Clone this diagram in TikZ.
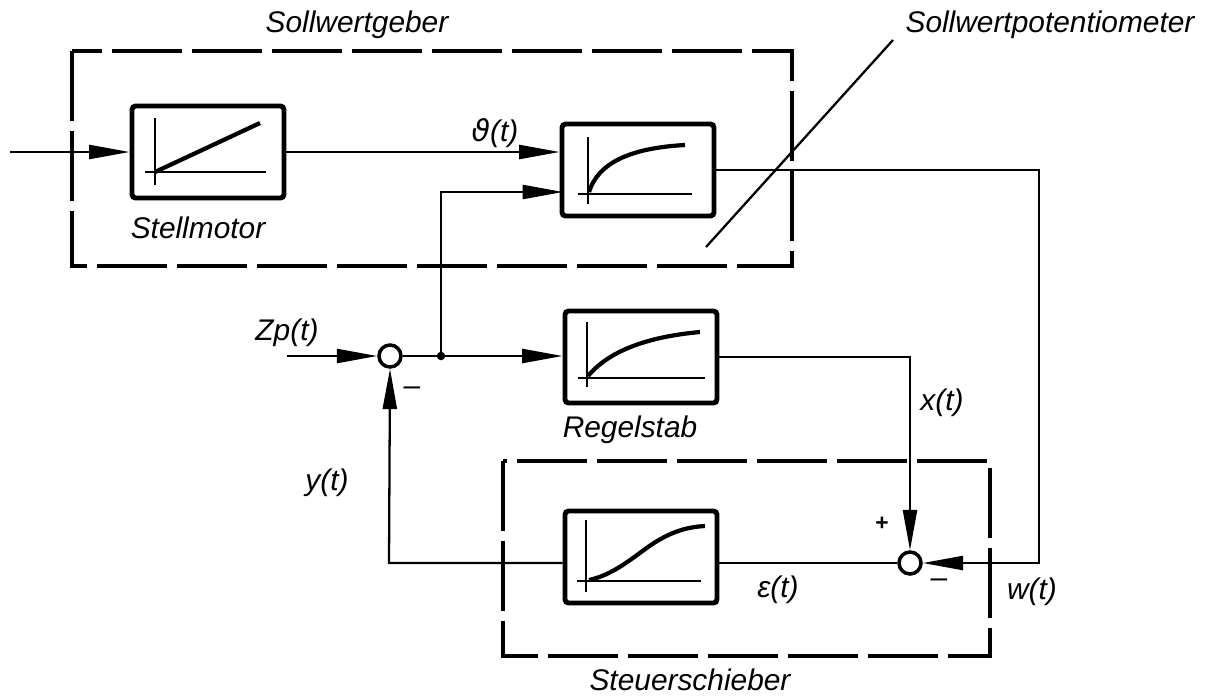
\documentclass[tikz,border=0pt]{standalone}
\usepackage{fontspec}
\setmainfont{Liberation Sans}
\newfontfamily\dejavu{DejaVu Sans}
\usetikzlibrary{arrows.meta}
\tikzset{
 blk/.style={draw, line width=2.8pt, rounded corners=2pt, minimum width=3.04cm, minimum height=1.84cm, inner sep=0},
 sumj/.style={draw, circle, line width=2pt, minimum size=0.44cm, inner sep=0, fill=white},
 conn/.style={line width=1.3pt},
 arr/.style={conn, -{Triangle[length=23pt,width=8pt]}},
 grp/.style={line width=2pt, dash pattern=on 1.4cm off 0.2cm},
 lbl/.style={font=\fontsize{17}{20}\selectfont\itshape, inner sep=1pt},
 crv/.style={line width=2.4pt},
 axis/.style={line width=1.2pt},
}
\begin{document}
\begin{tikzpicture}[x=0.02cm,y=-0.02cm]
\useasboundingbox (0,0) rectangle (1213,697);

% group boxes
\draw[grp] (72,51) rectangle (792,266);
\draw[grp] (503,461) rectangle (990,656);

% blocks
\node[blk] (stell) at (208,152) {};
\node[blk] (pot) at (638,170) {};
\node[blk] (regel) at (641,357) {};
\node[blk] (steuer) at (641,557) {};

% summing junctions and branch
\node[sumj] (j1) at (390,356) {};
\node[sumj] (j2) at (910,563) {};
\fill (441,356) circle (0.085cm);
\coordinate (b1) at (441,356);

% graphs inside blocks
\draw[axis] (155,118) -- (155,185);
\draw[axis] (145,172) -- (266,172);
\draw[crv] (155,172) -- (260,123);

\draw[axis] (588,137) -- (588,204);
\draw[axis] (578,194) -- (692,194);
\draw[crv] (589,192) .. controls (598,163) and (630,148) .. (685,145);

\draw[axis] (587,322) -- (587,387);
\draw[axis] (578,378) -- (705,378);
\draw[crv] (588,376) .. controls (608,352) and (645,337) .. (700,332);

\draw[axis] (586,520) -- (586,592);
\draw[axis] (577,581) -- (701,581);
\draw[crv] (589,580) .. controls (612,575) and (630,560) .. (648,547) .. controls (668,533) and (685,527) .. (705,526);

% connectors
\coordinate (in0) at (10,152);
\draw[arr] (in0) -- (stell.west);
\draw[arr] (stell.east) -- (stell.east -| pot.west);
\coordinate (pin2) at (563,192);
\draw[conn] (j1.east) -- (b1);
\draw[arr] (b1) |- (pin2);
\draw[arr] (b1) -- (b1 -| regel.west);
\coordinate (zp) at (287,356);
\draw[arr] (zp) -- (j1.west);
\coordinate (wc) at (1039,563);
\draw[arr] (pot.east) -| (wc) -- (j2.east);
\draw[arr] (regel.east) -| (j2.north);
\draw[conn] (j2.west) -- (j2.west -| steuer.east);
\coordinate (fb) at (389,563);
\draw[arr] (j2 -| steuer.west) -- (fb) -- (j1.south);

% leader line
\coordinate (ldA) at (706,247);
\coordinate (ldB) at (893,40);
\draw[conn] (ldA) -- (ldB);

% labels
\node[lbl] (tSg) at (357,25) {Sollwertgeber};
\node[lbl] (tSp) at (1050,25) {Sollwertpotentiometer};
\node[lbl] (tSm) at (198,228) {Stellmotor};
\node[lbl] (tTh) at (495,133) {{\dejavu\itshape ϑ}(t)};
\node[lbl] (tZp) at (287,333) {Zp(t)};
\node[lbl] (tM1) at (412,391) {–};
\node[lbl] (tRs) at (630,430) {Regelstab};
\node[lbl] (tX) at (942,403) {x(t)};
\node[lbl] (tY) at (327,483) {y(t)};
\node[lbl] (tEp) at (778,590) {ε(t)};
\node[lbl, font=\fontsize{13}{15}\selectfont\bfseries] (tPl) at (882,524) {+};
\node[lbl] (tM2) at (939,583) {–};
\node[lbl] (tW) at (1032,592) {w(t)};
\node[lbl] (tSs) at (690,680) {Steuerschieber};
\end{tikzpicture}
\end{document}
